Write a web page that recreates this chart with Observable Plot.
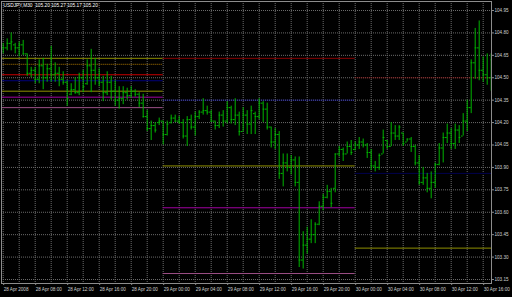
<!DOCTYPE html>
<html><head><meta charset="utf-8">
<script src="https://cdn.jsdelivr.net/npm/d3@7"></script>
<script src="https://cdn.jsdelivr.net/npm/@observablehq/plot@0.6"></script>
<style>
html,body{margin:0;padding:0;background:#000;}
#chart{width:512px;height:297px;overflow:hidden;}
</style></head><body><div id="chart"></div>
<script>
// ---- data ----
const chartTitle = "USDJPY,M30  105.20 105.27 105.17 105.20";
const firstBar = "2008-04-28T04:00Z";   // M30 bars, one every 30 minutes
const highs = [104.73,104.76,104.80,104.73,104.74,104.75,104.66,104.57,104.57,104.62,
  104.63,104.59,104.71,104.60,104.57,104.54,104.48,104.46,104.50,104.53,
  104.55,104.62,104.69,104.63,104.56,104.51,104.54,104.51,104.48,104.44,
  104.44,104.43,104.44,104.42,104.40,104.39,104.28,104.21,104.20,104.23,
  104.21,104.21,104.25,104.25,104.24,104.22,104.24,104.25,104.27,104.28,
  104.36,104.31,104.28,104.21,104.27,104.28,104.34,104.31,104.36,104.27,
  104.30,104.28,104.31,104.27,104.36,104.34,104.33,104.17,104.16,104.14,
  103.99,103.99,103.98,103.97,103.97,103.47,103.50,103.55,103.53,103.67,
  103.72,103.78,103.76,103.99,104.04,104.03,104.07,104.08,104.07,104.10,
  104.09,104.06,104.02,103.94,103.99,104.15,104.08,104.20,104.18,104.18,
  104.13,104.09,104.10,104.05,103.98,103.90,103.86,103.87,103.93,104.06,
  104.13,104.19,104.16,104.19,104.18,104.26,104.35,104.62,104.83,104.88,
  104.64,104.66,104.66];
const lows = [104.66,104.68,104.68,104.66,104.64,104.65,104.51,104.50,104.46,104.46,
  104.42,104.47,104.47,104.47,104.44,104.45,104.31,104.38,104.39,104.38,
  104.40,104.45,104.40,104.45,104.44,104.34,104.38,104.35,104.31,104.29,
  104.32,104.35,104.36,104.37,104.30,104.23,104.14,104.08,104.13,104.18,
  104.05,104.11,104.19,104.20,104.19,104.09,104.04,104.15,104.11,104.22,
  104.25,104.25,104.20,104.15,104.16,104.17,104.19,104.19,104.18,104.11,
  104.14,104.12,104.12,104.12,104.22,104.20,104.15,104.03,104.02,103.82,
  103.77,103.87,103.85,103.77,103.23,103.22,103.32,103.39,103.39,103.51,
  103.61,103.69,103.63,103.73,103.97,103.94,103.99,103.98,104.01,104.02,
  104.03,103.96,103.88,103.87,103.88,103.99,104.02,104.04,104.08,104.08,
  104.04,104.07,104.00,103.91,103.78,103.78,103.73,103.69,103.76,103.91,
  103.93,104.06,104.02,104.02,104.06,104.11,104.14,104.26,104.49,104.48,
  104.47,104.45,104.41];
const opens = [104.70,104.70,104.73,104.72,104.70,104.72,104.66,104.53,104.55,104.49,
  104.58,104.50,104.56,104.52,104.53,104.49,104.47,104.39,104.42,104.40,
  104.50,104.46,104.58,104.55,104.50,104.47,104.40,104.47,104.41,104.35,
  104.36,104.40,104.38,104.41,104.39,104.33,104.24,104.16,104.18,104.20,
  104.21,104.12,104.20,104.23,104.21,104.20,104.11,104.22,104.17,104.24,
  104.27,104.28,104.27,104.21,104.18,104.25,104.21,104.30,104.22,104.25,
  104.14,104.25,104.19,104.26,104.24,104.33,104.29,104.17,104.07,104.12,
  103.86,103.93,103.90,103.95,103.80,103.28,103.38,103.42,103.45,103.52,
  103.64,103.70,103.74,103.76,103.99,104.02,103.99,104.04,104.02,104.05,
  104.07,104.05,104.00,103.91,103.90,103.99,104.08,104.04,104.13,104.11,
  104.13,104.07,104.09,104.04,103.93,103.80,103.83,103.76,103.80,103.92,
  104.03,104.10,104.13,104.06,104.15,104.11,104.21,104.30,104.60,104.70,
  104.55,104.52,104.50];
const closes = [104.70,104.73,104.74,104.70,104.72,104.66,104.53,104.55,104.49,104.58,
  104.50,104.56,104.52,104.53,104.49,104.47,104.36,104.42,104.40,104.50,
  104.44,104.58,104.55,104.50,104.47,104.40,104.47,104.41,104.35,104.36,
  104.40,104.38,104.41,104.39,104.33,104.24,104.16,104.18,104.15,104.21,
  104.12,104.19,104.23,104.21,104.20,104.11,104.22,104.17,104.24,104.27,
  104.28,104.27,104.21,104.18,104.25,104.21,104.30,104.22,104.25,104.14,
  104.25,104.19,104.28,104.24,104.33,104.29,104.17,104.07,104.12,103.86,
  103.93,103.90,103.95,103.80,103.28,103.38,103.42,103.45,103.52,103.64,
  103.70,103.74,103.66,103.99,104.02,103.99,104.04,104.00,104.05,104.07,
  104.05,104.00,103.91,103.90,103.98,104.10,104.04,104.13,104.11,104.17,
  104.06,104.09,104.04,103.93,103.80,103.83,103.76,103.80,103.92,104.03,
  104.10,104.13,104.06,104.15,104.10,104.21,104.30,104.60,104.70,104.55,
  104.52,104.50,104.62];
const priceTicks = [104.95,104.80,104.65,104.50,104.35,104.20,104.05,103.90,103.75,103.60,103.45,103.30,103.15];
// daily level lines
const levelFrom  = ["2008-04-28","2008-04-28","2008-04-28","2008-04-28","2008-04-28","2008-04-28","2008-04-28",
                    "2008-04-29","2008-04-29","2008-04-29","2008-04-29","2008-04-29",
                    "2008-04-30","2008-04-30","2008-04-30"];
const levelPrice = [104.63,104.59,104.52,104.48,104.41,104.37,104.30,
                    104.63,104.35,103.91,103.63,103.19,
                    104.50,103.86,103.36];
const levelKind  = ["olive","amberDot","red","navy","olive","magenta","mauve",
                    "maroon","blueDot","olive","magenta","mauve",
                    "maroonDot","navyDark","olive"];

// ---- styles ----
const kindStyle = {
  olive:     {stroke: "#8f8f00", dash: null},
  amberDot:  {stroke: "#b07a00", dash: "1,1"},
  red:       {stroke: "#c80000", dash: null},
  navy:      {stroke: "#00007a", dash: null},
  magenta:   {stroke: "#a000a0", dash: null},
  mauve:     {stroke: "#9c4f86", dash: null},
  maroon:    {stroke: "#8a0000", dash: null},
  blueDot:   {stroke: "#2a2ad0", dash: "1,1"},
  maroonDot: {stroke: "#a01818", dash: "1,1"},
  navyDark:  {stroke: "#00004e", dash: null}
};

// ---- build ----
const t0 = new Date(firstBar);
const bars = highs.map((h, i) => ({
  t: d3.utcMinute.offset(t0, 30 * i),
  high: h, low: lows[i], open: opens[i], close: closes[i]
}));
const tEnd = bars[bars.length - 1].t;
const levels = levelPrice.map((p, i) => {
  const from = new Date(levelFrom[i] + "T00:00Z");
  return {from, to: d3.utcDay.offset(from, 1), price: p, kind: levelKind[i]};
});
const gridTimes = d3.utcHour.every(2).range(t0, d3.utcMinute.offset(tEnd, 1));
const labelTimes = d3.utcHour.every(4).range(t0, d3.utcMinute.offset(tEnd, 1));
const fmtFirst = d3.utcFormat("%-d %b %Y");
const fmtOther = d3.utcFormat("%-d %b %H:%M");
const green = "#00b400";

const levelMarks = Object.keys(kindStyle).map(k => Plot.ruleY(levels.filter(d => d.kind === k), {
  y: "price", x1: "from", x2: "to", stroke: kindStyle[k].stroke,
  strokeDasharray: kindStyle[k].dash, clip: true
}));

const chart = Plot.plot({
  width: 512, height: 297,
  marginLeft: 1, marginRight: 21, marginTop: 1, marginBottom: 14,
  style: {background: "#000", color: "#d0d0d0", fontFamily: "'Liberation Sans', Arial, sans-serif", fontSize: "4.6px"},
  x: {type: "utc", domain: [t0, tEnd], range: [2.7, 490.7]},
  y: {domain: [103.15, 104.95], range: [279, 10]},
  marks: [
    Plot.gridY(priceTicks, {stroke: "#6a6a6a", strokeOpacity: 1, strokeDasharray: "1,1"}),
    Plot.gridX(gridTimes, {stroke: "#6a6a6a", strokeOpacity: 1, strokeDasharray: "1,1"}),
    ...levelMarks,
    Plot.ruleX(bars, {x: "t", y1: "low", y2: "high", stroke: green, clip: true}),
    Plot.ruleY(bars, {y: "open", x1: d => d3.utcMinute.offset(d.t, -13), x2: "t", stroke: green, clip: true}),
    Plot.ruleY(bars, {y: "close", x1: "t", x2: d => d3.utcMinute.offset(d.t, 13), stroke: green, clip: true}),
    Plot.frame({stroke: "#8c8c8c"}),
    Plot.axisY(priceTicks, {anchor: "right", tickSize: 2, tickPadding: 1, tickFormat: d3.format(".2f"),
      stroke: "#8c8c8c", fill: "#d0d0d0", fontSize: 4.6}),
    Plot.axisX(labelTimes, {anchor: "bottom", tickSize: 2, tickPadding: 2, textAnchor: "start", dx: 0.5,
      tickFormat: (d, i) => i === 0 ? fmtFirst(d) : fmtOther(d),
      stroke: "#8c8c8c", fill: "#d0d0d0", fontSize: 4.6}),
    Plot.text([chartTitle], {frameAnchor: "top-left", dx: 2, dy: 2, lineAnchor: "top", textAnchor: "start",
      fill: "#ffffff", fontSize: 4.8})
  ]
});
document.getElementById("chart").appendChild(chart);
</script></body></html>
